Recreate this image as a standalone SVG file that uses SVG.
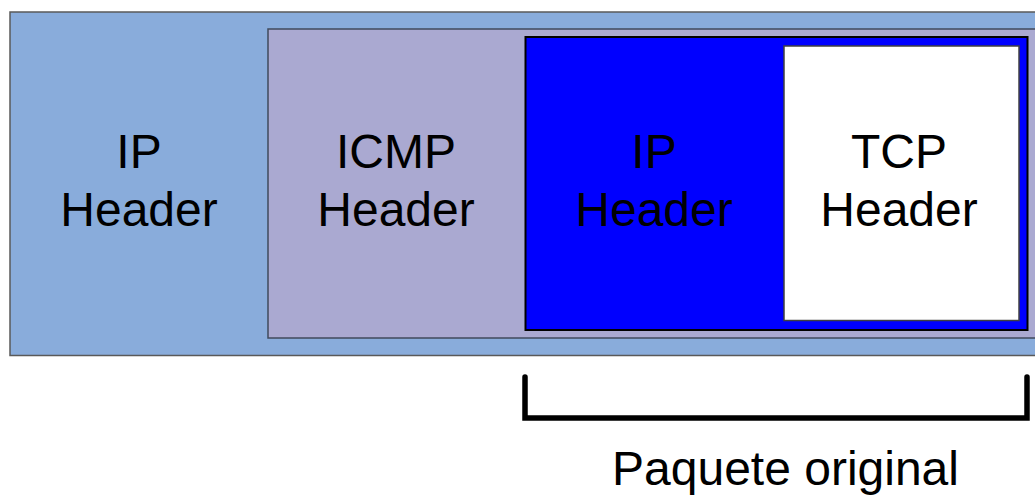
<svg xmlns="http://www.w3.org/2000/svg" width="1035" height="497" viewBox="0 0 1035 497">
<style>
text{font-family:"Liberation Sans",Arial,sans-serif;font-size:48px;fill:#000;text-anchor:middle}
.box{stroke-width:1.5}
</style>
<rect width="1035" height="497" fill="#fff"/>
<g id="outer">
<rect class="box" x="10" y="12" width="1040" height="343.5" fill="#89acdb" stroke="#595959"/>
<text x="139" y="168">IP</text>
<text x="139" y="226">Header</text>
</g>
<g id="icmp">
<rect class="box" x="268" y="29" width="780" height="309" fill="#aaa9d1" stroke="#404a5c"/>
<text x="396" y="168">ICMP</text>
<text x="396" y="226">Header</text>
</g>
<g id="inner-ip">
<rect x="525.5" y="37" width="502" height="293" fill="#0000ff" stroke="#000" stroke-width="2"/>
<text x="654" y="168">IP</text>
<text x="654" y="226">Header</text>
</g>
<g id="tcp">
<rect class="box" x="784" y="46" width="235" height="274.5" fill="#fff" stroke="#404040"/>
<text x="899" y="168">TCP</text>
<text x="899" y="226">Header</text>
</g>
<g id="connectors">
<path d="M525,377 V418 H1027 V377" fill="none" stroke="#000" stroke-width="5.5" stroke-linecap="round" stroke-linejoin="miter"/>
</g>
<g id="label">
<text x="785.5" y="485">Paquete original</text>
</g>
</svg>
